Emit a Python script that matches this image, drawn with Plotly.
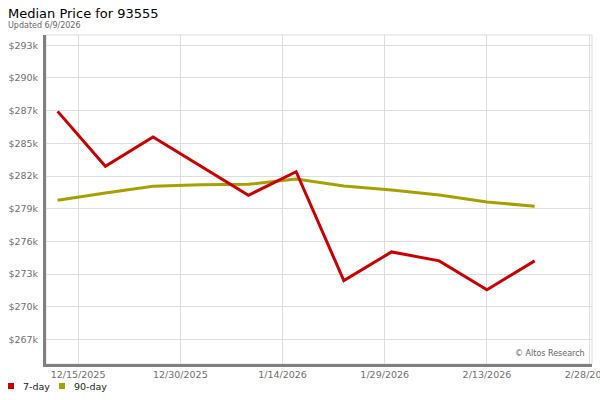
import plotly.graph_objects as go

# weekly dates and median prices
dates = ["2025-12-12", "2025-12-19", "2025-12-26", "2026-01-02", "2026-01-09", "2026-01-16",
         "2026-01-23", "2026-01-30", "2026-02-06", "2026-02-13", "2026-02-20"]
price_7day = [287420, 282430, 285090, 282450, 279800, 281940,
              272050, 274650, 273840, 271210, 273840]
price_90day = [279340, 280010, 280610, 280760, 280800, 281280,
               280640, 280280, 279820, 279190, 278800]

y_tickvals = [266700, 269670, 272640, 275610, 278580, 281550, 284520, 287490, 290460, 293430]
y_ticktext = ["$267k", "$270k", "$273k", "$276k", "$279k", "$282k", "$285k", "$287k", "$290k", "$293k"]
x_tickvals = ["2025-12-15", "2025-12-30", "2026-01-14", "2026-01-29", "2026-02-13", "2026-02-28"]
x_ticktext = ["12/15/2025", "12/30/2025", "1/14/2026", "1/29/2026", "2/13/2026", "2/28/2026"]

series_names = ["7-day", "90-day"]
series_colors = ["#cc0000", "#a8a000"]
FONT = "DejaVu Sans"

# plot area in pixels
L, R, T, B = 46, 8, 35, 36
PW, PH = 600 - L - R, 400 - T - B


def px_x(p):
    return (p - L) / PW


def px_y(p):
    return (400 - B - p) / PH


fig = go.Figure()
fig.add_trace(go.Scatter(x=dates, y=price_90day, mode="lines", name="90-day",
                         line=dict(color=series_colors[1], width=3)))
fig.add_trace(go.Scatter(x=dates, y=price_7day, mode="lines", name="7-day",
                         line=dict(color=series_colors[0], width=3)))

# thin light frame on top / right of the plot area
shapes = [dict(type="rect", xref="paper", yref="paper", x0=0, x1=1, y0=0, y1=1,
               line=dict(color="#dddddd", width=1), layer="below")]
annotations = []

# legend drawn by hand: small squares + labels
legend_x = [8, 59]
for lx, name, color in zip(legend_x, series_names, series_colors):
    shapes.append(dict(type="rect", xref="paper", yref="paper",
                       x0=px_x(lx), x1=px_x(lx + 6), y0=px_y(389), y1=px_y(383),
                       fillcolor=color, line=dict(width=0)))
    annotations.append(dict(text=name, xref="paper", yref="paper", x=px_x(lx + 13), y=px_y(386),
                            xanchor="left", yanchor="middle", showarrow=False,
                            font=dict(family=FONT, size=9.5, color="#222222")))

annotations += [
    dict(text="Median Price for 93555", xref="paper", yref="paper", x=px_x(6), y=px_y(4),
         xanchor="left", yanchor="top", showarrow=False,
         font=dict(family=FONT, size=13, color="#000000")),
    dict(text="Updated 6/9/2026", xref="paper", yref="paper", x=px_x(6), y=px_y(19),
         xanchor="left", yanchor="top", showarrow=False,
         font=dict(family=FONT, size=8, color="#666666")),
    dict(text="© Altos Research", xref="paper", yref="paper", x=px_x(587), y=px_y(360),
         xanchor="right", yanchor="bottom", showarrow=False,
         font=dict(family=FONT, size=8, color="#666666")),
]

fig.update_layout(
    width=600, height=400,
    margin=dict(l=L, r=R, t=T, b=B, pad=0),
    paper_bgcolor="white", plot_bgcolor="white",
    font=dict(family=FONT, size=9.5, color="#707070"),
    showlegend=False,
    xaxis=dict(type="date", range=["2025-12-10 07:00", "2026-02-28 10:00"],
               tickvals=x_tickvals, ticktext=x_ticktext, automargin=False,
               ticklabeloverflow="allow",
               showgrid=True, gridcolor="#dddddd", gridwidth=1,
               showline=True, linecolor="#808080", linewidth=3, mirror=False,
               ticks="", zeroline=False),
    yaxis=dict(range=[264470, 294360], tickvals=y_tickvals, ticktext=y_ticktext,
               automargin=False,
               showgrid=True, gridcolor="#dddddd", gridwidth=1,
               showline=True, linecolor="#808080", linewidth=3,
               ticks="", zeroline=False, ticklabelstandoff=3),
    shapes=shapes,
    annotations=annotations,
)

# drop the browser's default 8px body margin so the figure sits at the window corner
fig.write_html("out.html", config={"displayModeBar": False},
               post_script="document.body.style.margin='0';")
